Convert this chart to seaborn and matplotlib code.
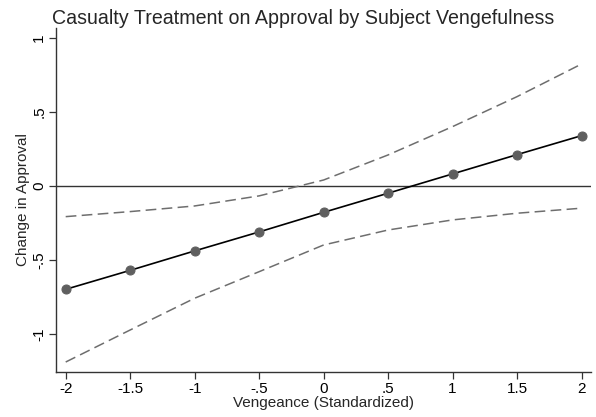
import matplotlib
matplotlib.use("Agg")
import matplotlib.pyplot as plt
import seaborn as sns
import pandas as pd

vengeance = [-2, -1.5, -1, -0.5, 0, 0.5, 1, 1.5, 2]
effect = [-0.697, -0.569, -0.438, -0.310, -0.178, -0.049, 0.081, 0.211, 0.339]
upper = [-0.207, -0.173, -0.135, -0.067, 0.04, 0.209, 0.40, 0.602, 0.822]
lower = [-1.187, -0.971, -0.757, -0.578, -0.398, -0.297, -0.229, -0.184, -0.15]

xticks = [-2, -1.5, -1, -0.5, 0, 0.5, 1, 1.5, 2]
xticklabels = ["-2", "-1.5", "-1", "-.5", "0", ".5", "1", "1.5", "2"]
yticks = [-1, -0.5, 0, 0.5, 1]
yticklabels = ["-1", "-.5", "0", ".5", "1"]

df = pd.DataFrame({"x": vengeance, "b": effect, "hi": upper, "lo": lower})

sns.set_theme(style="white")
plt.rcParams["font.family"] = ["Liberation Sans", "DejaVu Sans"]

fig = plt.figure(figsize=(5.96, 4.17), dpi=100)
ax = fig.add_axes([0.094, 0.108, 0.898, 0.825])

ax.axhline(0, color="#333333", lw=1.0, zorder=1)
sns.lineplot(data=df, x="x", y="hi", ax=ax, color="#6e6e6e", lw=1.1,
             linestyle=(0, (7, 3.5)), zorder=2)
sns.lineplot(data=df, x="x", y="lo", ax=ax, color="#6e6e6e", lw=1.1,
             linestyle=(0, (7, 3.5)), zorder=2)
sns.lineplot(data=df, x="x", y="b", ax=ax, color="black", lw=1.2,
             marker="o", markersize=6.5, markerfacecolor="#5f5f5f",
             markeredgecolor="#5f5f5f", zorder=3)

ax.set_xlim(-2.075, 2.075)
ax.set_ylim(-1.254, 1.065)
ax.set_xticks(xticks)
ax.set_xticklabels(xticklabels, fontsize=11)
ax.set_yticks(yticks)
ax.set_yticklabels(yticklabels, fontsize=11, rotation=90, va="center")

ax.set_xlabel("Vengeance (Standardized)", fontsize=11, labelpad=0)
ax.set_ylabel("Change in Approval", fontsize=11, labelpad=2)

for s in ["top", "right"]:
    ax.spines[s].set_visible(False)
for s in ["left", "bottom"]:
    ax.spines[s].set_color("#333333")
    ax.spines[s].set_linewidth(1.0)
ax.tick_params(axis="both", which="major", direction="out", length=5,
               width=0.9, color="#333333", pad=2, labelcolor="black")
ax.tick_params(axis="both", bottom=True, left=True)

fig.text(0.087, 0.955, "Casualty Treatment on Approval by Subject Vengefulness",
         fontsize=14.1, ha="left", va="center")

fig.savefig("out.png", dpi=100)
